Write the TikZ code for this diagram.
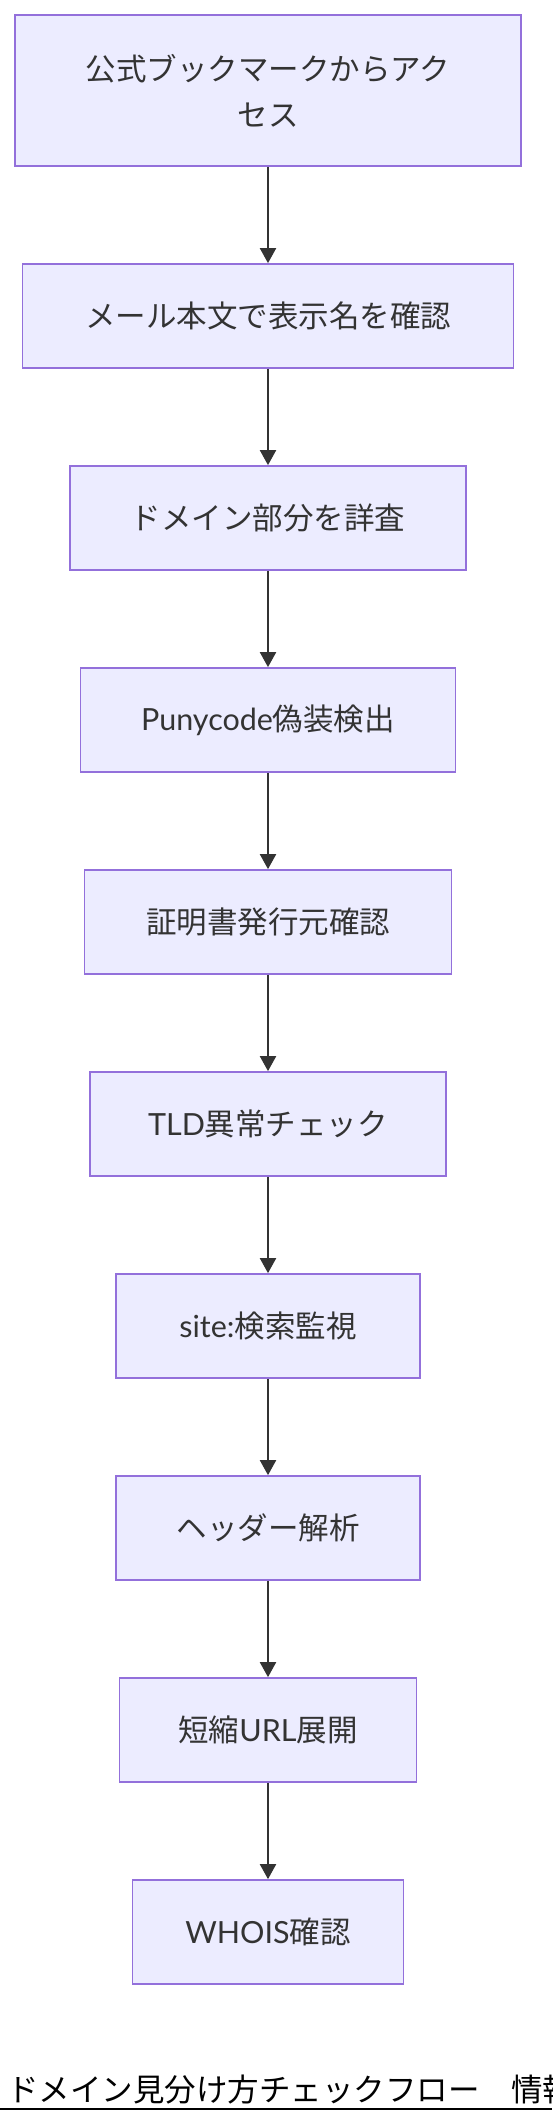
\documentclass[tikz,border=0pt]{standalone}
\usepackage{fontspec}
\setmainfont{Noto Sans CJK JP}
\newfontfamily\lat{Lato}
\usetikzlibrary{arrows.meta}
\definecolor{nodefill}{HTML}{ECECFF}
\definecolor{nodeborder}{HTML}{9370DB}
\definecolor{txt}{HTML}{333333}
\tikzset{
  box/.style={draw=nodeborder, fill=nodefill, line width=1.7pt, text=txt,
    font=\fontsize{30.5}{46}\selectfont, inner sep=0pt, align=center,
    rectangle, minimum height=104pt},
  flow/.style={draw=txt, line width=2pt, -{Triangle[length=15pt,width=16pt]}},
  titletext/.style={font=\fontsize{31.5}{36}\selectfont, text=black, inner sep=0pt, anchor=base west}
}
\begin{document}
\begin{tikzpicture}[x=1pt,y=-1pt]
\useasboundingbox (0,0) rectangle (552,2124);
\node[box, minimum width=506pt, minimum height=151pt] (n1) at (268,90.5) {公式ブックマークからアク\\セス};
\node[box, minimum width=491pt] (n2) at (268,316) {メール本文で表示名を確認};
\node[box, minimum width=396pt] (n3) at (268,518) {ドメイン部分を詳査};
\node[box, minimum width=375pt] (n4) at (268,720) {{\lat Punycode}偽装検出};
\node[box, minimum width=367pt] (n5) at (268,922) {証明書発行元確認};
\node[box, minimum width=356pt] (n6) at (268,1124) {{\lat TLD}異常チェック};
\node[box, minimum width=304pt] (n7) at (268,1326) {{\lat site:}検索監視};
\node[box, minimum width=304pt] (n8) at (268,1528) {ヘッダー解析};
\node[box, minimum width=297pt] (n9) at (268,1730) {短縮{\lat URL}展開};
\node[box, minimum width=271pt] (n10) at (268,1932) {{\lat WHOIS}確認};
\foreach \a/\b in {n1/n2,n2/n3,n3/n4,n4/n5,n5/n6,n6/n7,n7/n8,n8/n9,n9/n10}
  \draw[flow] (\a) -- (\b);
\node[titletext] (title) at (7,2101) {ドメイン見分け方チェックフロー　情報};
\coordinate (ul0) at (0,2109);
\coordinate (ul1) at (552,2109);
\draw[line width=2pt, black] (ul0) -- (ul1);
\end{tikzpicture}
\end{document}
